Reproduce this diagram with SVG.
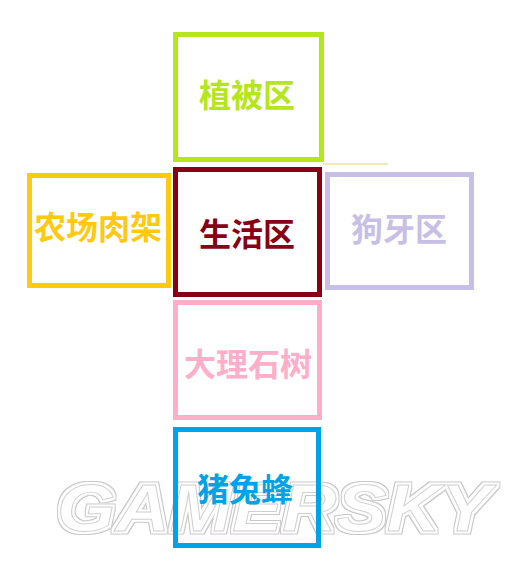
<svg xmlns="http://www.w3.org/2000/svg" width="516" height="575" viewBox="0 0 516 575">
<style>
.box{fill:none;stroke-width:5}
.lbl{font-family:"Noto Sans CJK SC","Noto Sans",sans-serif;font-weight:bold;font-size:32px;text-anchor:middle}
.wm{font-family:"Liberation Sans",Arial,sans-serif;font-weight:bold;font-style:italic;font-size:66px}
</style>
<defs>
<filter id="ring" x="-5%" y="-20%" width="110%" height="140%">
<feMorphology in="SourceAlpha" operator="dilate" radius="3" result="big"/>
<feMorphology in="SourceAlpha" operator="dilate" radius="2" result="small"/>
<feComposite in="big" in2="small" operator="out" result="r"/>
<feFlood flood-color="#c8c8c8"/>
<feComposite in2="r" operator="in" result="ringc"/>
<feMerge><feMergeNode in="ringc"/><feMergeNode in="SourceGraphic"/></feMerge>
</filter>
</defs>
<rect width="516" height="575" fill="#ffffff"/>
<g id="watermark">
<text class="wm" x="57" y="531" textLength="434" lengthAdjust="spacingAndGlyphs" fill="#ffffff" stroke="#d0d0d0" stroke-width="0.9" filter="url(#ring)">GAMERSKY</text>
</g>
<g id="connectors">
<line x1="323" y1="164" x2="388" y2="164" stroke="#e6d36a" stroke-width="1"/>
</g>
<g id="node-zhibei">
<rect class="box" x="175.5" y="34.5" width="146" height="125" stroke="#b5e61d"/>
<text class="lbl" x="247" y="106.5" fill="#b5e61d">植被区</text>
</g>
<g id="node-nongchang">
<rect class="box" x="29.5" y="175.5" width="139" height="110" stroke="#ffc90e"/>
<text class="lbl" x="98" y="238.5" fill="#ffc90e">农场肉架</text>
</g>
<g id="node-shenghuo">
<rect class="box" x="175.5" y="169.5" width="144" height="125" stroke="#880015"/>
<text class="lbl" x="247" y="245.5" fill="#880015">生活区</text>
</g>
<g id="node-gouya">
<rect class="box" x="327.5" y="174.5" width="144" height="113" stroke="#c8bfe7"/>
<text class="lbl" x="399" y="240.5" fill="#c8bfe7">狗牙区</text>
</g>
<g id="node-dalishi">
<rect class="box" x="175.5" y="302.5" width="144" height="115" stroke="#ffaec9"/>
<text class="lbl" x="248" y="375.5" fill="#ffaec9">大理石树</text>
</g>
<g id="node-zhutufeng">
<rect class="box" x="175.5" y="429.5" width="143" height="116" stroke="#00a2e8"/>
<text class="lbl" x="245" y="500.5" fill="#00a2e8">猪兔蜂</text>
</g>
</svg>
